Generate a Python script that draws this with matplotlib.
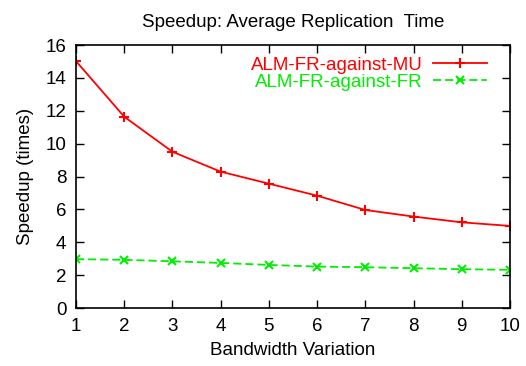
import matplotlib
matplotlib.use('Agg')
import matplotlib.pyplot as plt

plt.rcParams['font.family'] = ['Liberation Sans', 'DejaVu Sans']

bandwidth = [1, 2, 3, 4, 5, 6, 7, 8, 9, 10]
against_mu = [15.02, 11.64, 9.51, 8.30, 7.57, 6.84, 5.97, 5.57, 5.22, 5.00]
against_fr = [2.98, 2.94, 2.85, 2.75, 2.63, 2.53, 2.49, 2.43, 2.37, 2.33]

fs = 13.5

fig = plt.figure(figsize=(5.26, 3.66), dpi=100)
ax = fig.add_axes([0.1445, 0.158, 0.825, 0.719])

ax.plot(bandwidth, against_mu, color='#ff0000', linewidth=1.3, marker='+',
        markersize=7.5, markeredgewidth=1.5, label='ALM-FR-against-MU')
ax.plot(bandwidth, against_fr, color='#00ee00', linewidth=1.3, marker='x',
        markersize=6, markeredgewidth=1.5, linestyle=(0, (4.5, 2.2)),
        label='ALM-FR-against-FR')

ax.set_xlim(1, 10)
ax.set_ylim(0, 16)
ax.set_xticks(bandwidth)
ax.set_yticks(range(0, 17, 2))
ax.tick_params(direction='in', top=True, right=True, labelsize=fs,
               length=6, width=1, pad=7)
for s in ax.spines.values():
    s.set_linewidth(1.2)

ax.set_title('Speedup: Average Replication  Time', fontsize=fs, pad=13)
ax.set_xlabel('Bandwidth Variation', fontsize=fs, labelpad=5)
ax.set_ylabel('Speedup (times)', fontsize=fs, labelpad=8)

leg = ax.legend(loc='upper right', bbox_to_anchor=(1, 1.042), frameon=False,
                markerfirst=False, fontsize=fs, labelcolor='linecolor',
                handlelength=2.9, labelspacing=0.0, borderaxespad=0.8,
                handletextpad=0.55)
for col in leg._legend_handle_box.get_children():
    col.align = 'right'

fig.savefig('out.png', dpi=100)
